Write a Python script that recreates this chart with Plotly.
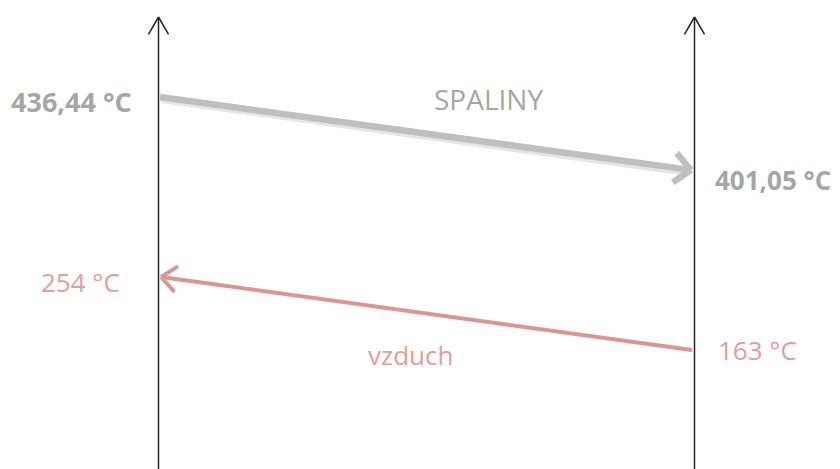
import math
import plotly.graph_objects as go

# ---- data ----
streams = ["SPALINY", "vzduch"]
t_in = ["436,44 °C", "163 °C"]
t_out = ["401,05 °C", "254 °C"]

# ---- layout constants (pixel space of the schematic) ----
W, H = 840, 469
OFF = 8  # page body margin compensation
AX_X = [158.5, 694.5]
AX_TOP, AX_BOT = 17, 480
GRAY = "#BFBFBF"
GRAY_TXT = "#A6A6A6"
RED = "#D99694"
RED_TXT = "#E39E99"
FONT = "Open Sans"

fig = go.Figure()

def line(xs, ys, color, width):
    fig.add_trace(go.Scatter(x=xs, y=ys, mode="lines", line=dict(color=color, width=width),
                             hoverinfo="skip", showlegend=False))

def chevron(x0, y0, x1, y1, color, width, length, ang):
    d = math.atan2(y1 - y0, x1 - x0)
    xs, ys = [], []
    for s in (1, -1):
        a = d + math.pi - s * math.radians(ang)
        xs += [x1 + length * math.cos(a), x1, None]
        ys += [y1 + length * math.sin(a), y1, None]
    line(xs, ys, color, width)

# vertical axes with open arrowheads
for x in AX_X:
    line([x, x], [AX_BOT, AX_TOP], "#262626", 1.5)
    chevron(x, AX_BOT, x, AX_TOP, "#262626", 1.5, 20, 30)

# gray arrow (SPALINY) shadow + main
g0 = (160, 97); g1 = (691, 170)
line([g0[0] + 1, g1[0] - 4], [g0[1] + 3, g1[1] + 3], "rgba(150,150,150,0.25)", 6)
line([g0[0], g1[0] - 3], [g0[1], g1[1] - 0.4], GRAY, 6.5)
chevron(g0[0], g0[1], g1[0], g1[1], GRAY, 6.5, 22, 42)

# red arrow (vzduch)
r0 = (692, 350); r1 = (161, 277)
line([r0[0], r1[0] + 2], [r0[1], r1[1] + 0.3], RED, 4)
chevron(r0[0], r0[1], r1[0], r1[1], RED, 4, 20, 40)

ann = []
def txt(x, y, s, color, size, bold=False, anchor="left"):
    ann.append(dict(x=x, y=y, xref="x", yref="y", text=f"<b>{s}</b>" if bold else s,
                    showarrow=False, xanchor=anchor, yanchor="middle",
                    font=dict(family=FONT, size=size, color=color)))

txt(134, 101, t_in[0], GRAY_TXT, 27, True, "right")
txt(713, 180, t_out[0], GRAY_TXT, 26, True, "left")
txt(122, 282, t_out[1], RED_TXT, 26, False, "right")
txt(716, 350, t_in[1], RED_TXT, 26, False, "left")
txt(488, 99, streams[0], GRAY_TXT, 28, False, "center")
txt(410, 355, streams[1], RED_TXT, 26, False, "center")

fig.update_layout(
    width=W - OFF, height=H - OFF, margin=dict(l=0, r=0, t=0, b=0),
    paper_bgcolor="white", plot_bgcolor="white",
    xaxis=dict(range=[OFF, W], visible=False, fixedrange=True),
    yaxis=dict(range=[H, OFF], visible=False, fixedrange=True),
    annotations=ann, showlegend=False,
)
fig.write_html("out.html")
